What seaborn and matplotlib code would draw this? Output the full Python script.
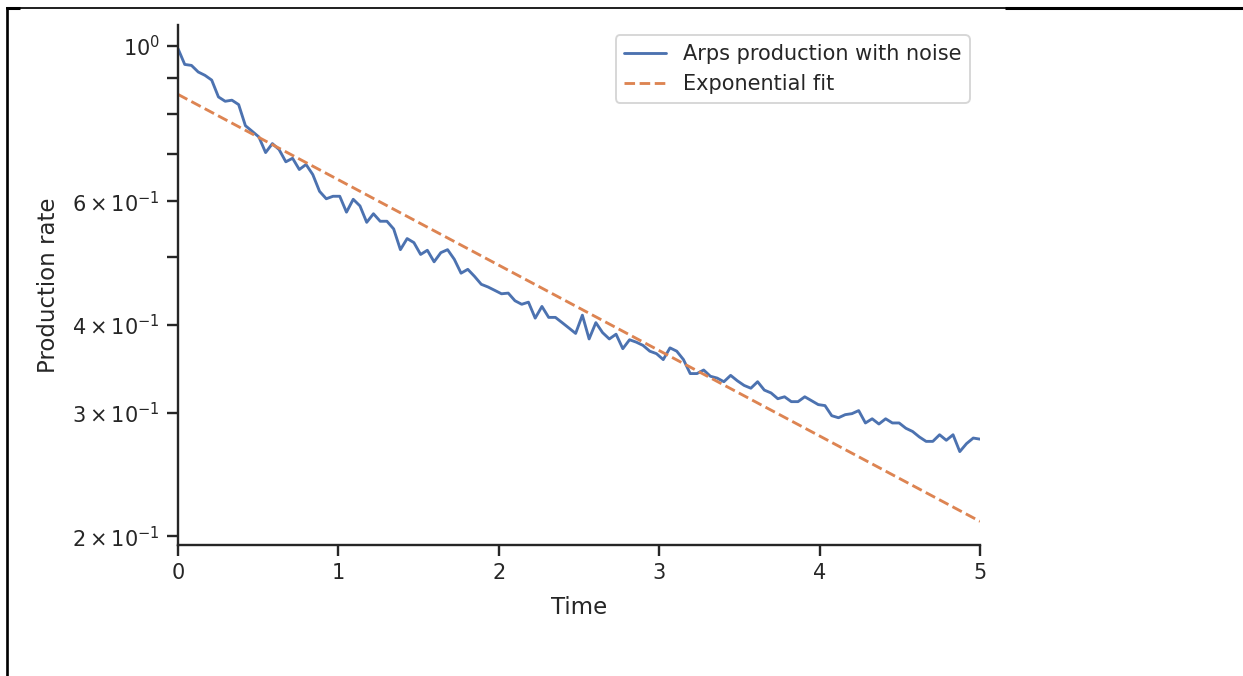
import numpy as np
import pandas as pd
import matplotlib
matplotlib.use("Agg")
import matplotlib.pyplot as plt
from matplotlib.lines import Line2D
import seaborn as sns

# Noisy Arps decline production rate, evenly sampled over the time span
rate = [
    0.990, 0.940, 0.937, 0.917, 0.907, 0.893, 0.845, 0.833, 0.836, 0.824,
    0.769, 0.755, 0.741, 0.704, 0.725, 0.711, 0.683, 0.691, 0.666, 0.677,
    0.655, 0.620, 0.605, 0.610, 0.610, 0.579, 0.604, 0.591, 0.560, 0.576,
    0.562, 0.562, 0.548, 0.512, 0.531, 0.524, 0.504, 0.511, 0.492, 0.507,
    0.512, 0.496, 0.474, 0.480, 0.469, 0.457, 0.453, 0.448, 0.443, 0.444,
    0.433, 0.428, 0.431, 0.409, 0.425, 0.410, 0.410, 0.403, 0.396, 0.389,
    0.413, 0.382, 0.403, 0.390, 0.382, 0.388, 0.370, 0.381, 0.378, 0.374,
    0.367, 0.364, 0.357, 0.371, 0.367, 0.357, 0.341, 0.341, 0.345, 0.338,
    0.336, 0.332, 0.339, 0.333, 0.328, 0.325, 0.332, 0.323, 0.320, 0.314,
    0.316, 0.311, 0.311, 0.316, 0.312, 0.308, 0.307, 0.297, 0.295, 0.298,
    0.299, 0.302, 0.290, 0.294, 0.289, 0.294, 0.290, 0.290, 0.285, 0.282,
    0.277, 0.273, 0.273, 0.279, 0.274, 0.279, 0.264, 0.271, 0.276, 0.275,
]
t_start, t_end = 0.0, 5.0
time = np.linspace(t_start, t_end, len(rate))

# Exponential fit (a straight line on the log axis) evaluated at its end points
fit_time = [0.0, 5.0]
fit_rate = [0.852, 0.210]

label_data = "Arps production with noise"
label_fit = "Exponential fit"

sns.set_theme(style="ticks", context="notebook")
plt.rcParams["ytick.minor.size"] = plt.rcParams["ytick.major.size"]
plt.rcParams["ytick.minor.width"] = plt.rcParams["ytick.major.width"]

dpi = 137
fig = plt.figure(figsize=(1243 / dpi, 676 / dpi), dpi=dpi)
ax = fig.add_axes([178 / 1243, 1 - 545 / 676, (980 - 178) / 1243, (545 - 25) / 676])

df = pd.DataFrame({"Time": time, "Production rate": rate})
fit_df = pd.DataFrame({"Time": fit_time, "Production rate": fit_rate})

pal = sns.color_palette("deep")
sns.lineplot(data=df, x="Time", y="Production rate", ax=ax,
             color=pal[0], label=label_data)
sns.lineplot(data=fit_df, x="Time", y="Production rate", ax=ax,
             color=pal[1], linestyle="--", label=label_fit)

ax.set_yscale("log")
ax.set_xlim(t_start, t_end)
ax.set_xlabel("Time", labelpad=7)
ax.set_ylabel("Production rate", labelpad=6.5)
ax.legend(loc="upper right")
sns.despine(ax=ax)

# Outer frame edges around the canvas
W, H = 1243, 676
def px_line(x0, y0, x1, y1, lw):
    fig.add_artist(Line2D([x0 / W, x1 / W], [1 - y0 / H, 1 - y1 / H],
                          transform=fig.transFigure, color="black",
                          linewidth=lw, solid_capstyle="butt"))

px_line(6, 7.5, 1243, 7.5, 0.9)
px_line(6, 7.5, 20, 7.5, 1.6)
px_line(1005, 7.5, 1243, 7.5, 1.6)
px_line(6.5, 7, 6.5, 676, 1.4)

fig.savefig("out.png", dpi=dpi)
